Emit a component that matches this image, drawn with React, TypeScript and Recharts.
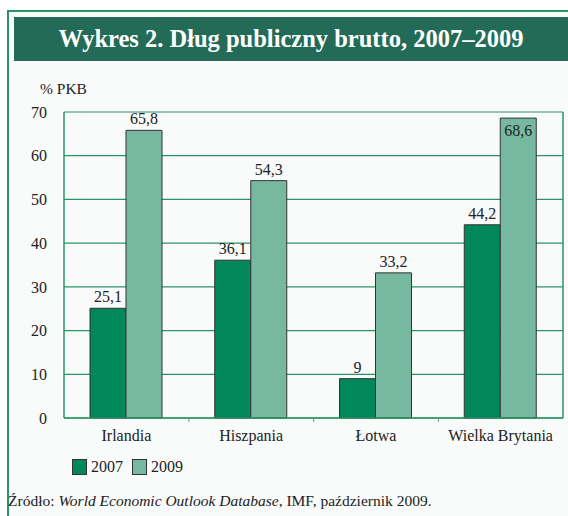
import { BarChart, Bar, XAxis, YAxis, CartesianGrid, LabelList } from "recharts";

const countries = ["Irlandia", "Hiszpania", "Łotwa", "Wielka Brytania"];
const debt2007 = [25.1, 36.1, 9, 44.2];
const debt2009 = [65.8, 54.3, 33.2, 68.6];
const yTicks = [0, 10, 20, 30, 40, 50, 60, 70];

const data = countries.map((name, i) => ({ name, y2007: debt2007[i], y2009: debt2009[i] }));

const FONT = "'Liberation Serif', 'DejaVu Serif', serif";
const GREEN_LINE = "#2a9468";
const C2007 = "#00875a";
const C2009 = "#76b9a0";

const series = [
  { key: "y2007", name: "2007", color: C2007 },
  { key: "y2009", name: "2009", color: C2009 },
];

const fmt = (v: number) => String(v).replace(".", ",");

// labels sit above the bar, except when there's no room under the top gridline
function ValueLabel(props: any) {
  const { x, y, width, value } = props;
  const inside = value > 67;
  return (
    <text
      x={x + width / 2}
      y={inside ? y + 18 : y - 6}
      textAnchor="middle"
      fontSize={16}
      fontFamily={FONT}
      fill="#222"
    >
      {fmt(value)}
    </text>
  );
}

// category label plus the little divider tick between categories
function CategoryTick(props: any) {
  const { x, y, payload, index } = props;
  const half = 500 / countries.length / 2;
  return (
    <g>
      {index < countries.length - 1 && (
        <line x1={x + half} x2={x + half} y1={y - 11} y2={y - 8} stroke="#888" strokeWidth={1} />
      )}
      <text x={x} y={y} dy="0.71em" textAnchor="middle" fontFamily={FONT} fontSize={16} fill="#222">
        {payload.value}
      </text>
    </g>
  );
}

export default function App() {
  return (
    <div style={{ position: "absolute", left: 0, top: 0, width: 568, height: 516, background: "#fff", overflow: "hidden" }}>
      <div
        style={{
          position: "absolute",
          left: 7,
          top: 10,
          width: 561,
          height: 506,
          borderLeft: `2px solid ${GREEN_LINE}`,
          borderTop: `2px solid ${GREEN_LINE}`,
          background: "#f9fbfa",
        }}
      />
      <div
        style={{
          position: "absolute",
          left: 14,
          top: 17,
          width: 554,
          height: 44,
          background: "#236b57",
          color: "#fff",
          fontFamily: FONT,
          fontWeight: "bold",
          fontSize: 24.5,
          lineHeight: "44px",
          textAlign: "center",
        }}
      >
        Wykres 2. Dług publiczny brutto, 2007–2009
      </div>
      <div style={{ position: "absolute", left: 40, top: 80, fontFamily: FONT, fontSize: 15.5, color: "#222" }}>% PKB</div>
      <div style={{ position: "absolute", left: 0, top: 0 }}>
        <BarChart
          width={568}
          height={450}
          data={data}
          margin={{ top: 112, right: 4, left: 0, bottom: 2 }}
          barCategoryGap={26}
          barGap={0}
        >
          <CartesianGrid vertical={false} stroke={GREEN_LINE} strokeWidth={1.2} />
          <XAxis
            dataKey="name"
            axisLine={{ stroke: GREEN_LINE, strokeWidth: 1.5 }}
            tickLine={false}
            tickSize={0}
            tickMargin={12}
            height={30}
            tick={<CategoryTick />}
          />
          <YAxis
            domain={[0, 70]}
            ticks={yTicks}
            width={64}
            axisLine={{ stroke: GREEN_LINE, strokeWidth: 1.5 }}
            tickLine={false}
            tickSize={0}
            tickMargin={17}
            tick={{ fontFamily: FONT, fontSize: 16, fill: "#222" }}
          />
          <YAxis
            yAxisId="r"
            orientation="right"
            domain={[0, 70]}
            width={1}
            tick={false}
            tickLine={false}
            axisLine={{ stroke: GREEN_LINE, strokeWidth: 1.5 }}
          />
          {series.map((s) => (
            <Bar key={s.key} dataKey={s.key} name={s.name} fill={s.color} stroke="#333" strokeWidth={1} isAnimationActive={false}>
              <LabelList dataKey={s.key} content={<ValueLabel />} />
            </Bar>
          ))}
        </BarChart>
      </div>
      <div style={{ position: "absolute", left: 72, top: 458, display: "flex", gap: 9, fontFamily: FONT, fontSize: 16, color: "#222" }}>
        {series.map((s) => (
          <div key={s.key} style={{ display: "flex", alignItems: "center", gap: 4 }}>
            <span style={{ width: 13, height: 14, background: s.color, border: "1px solid #333", display: "inline-block" }} />
            <span>{s.name}</span>
          </div>
        ))}
      </div>
      <div style={{ position: "absolute", left: 8, top: 492, fontFamily: FONT, fontSize: 15.5, color: "#222", whiteSpace: "nowrap" }}>
        Źródło: <i>World Economic Outlook Database</i>, IMF, październik 2009.
      </div>
    </div>
  );
}
